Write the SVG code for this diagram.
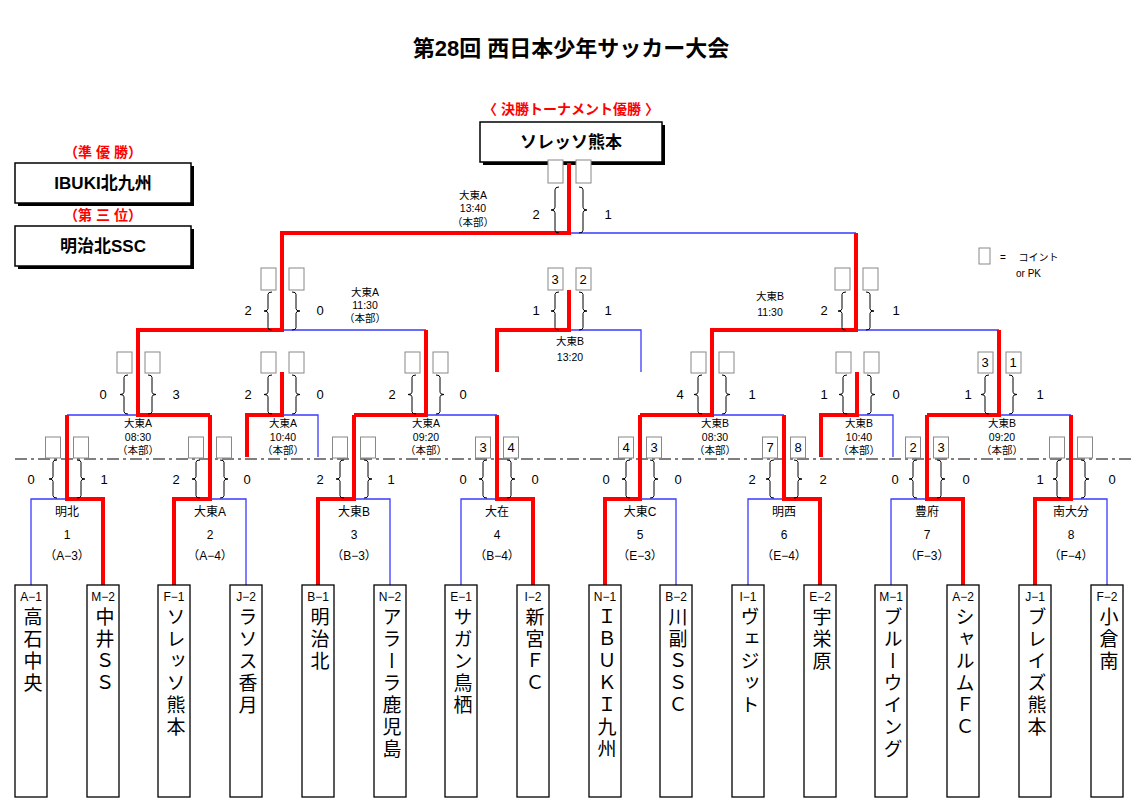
<svg xmlns="http://www.w3.org/2000/svg" width="1143" height="807" viewBox="0 0 1143 807">
<style>
text{font-family:"Liberation Sans","Noto Sans CJK JP",sans-serif;fill:#000}
.r{fill:none;stroke:#ff0000;stroke-width:4;stroke-linejoin:miter}
.b{fill:none;stroke:#3a3aff;stroke-width:1.3}
.sb{fill:#fff;stroke:#888;stroke-width:1}
.br{fill:none;stroke:#000;stroke-width:1}
.sc{font-size:13px;text-anchor:middle}
.bn{font-size:12px;text-anchor:middle}
.ml{font-size:12px;text-anchor:middle}
.sl{font-size:10.5px;text-anchor:middle}
.tb{fill:#fff;stroke:#000;stroke-width:1.3}
.tc{font-size:12px;text-anchor:middle}
.tn{font-size:19px;writing-mode:vertical-rl;letter-spacing:3px}
.red{fill:#ff0000;font-weight:bold;font-size:14px;text-anchor:middle}
.hb{fill:#fff;stroke:#000;stroke-width:1.5}
.ht{font-size:17px;font-weight:bold;text-anchor:middle}
</style>
<defs>
<path id="bl" d="M4 0 Q0 0 0 6 V44 Q0 50 -4 50 Q0 50 0 56 V94 Q0 100 4 100" vector-effect="non-scaling-stroke"/>
<path id="bR" d="M-4 0 Q0 0 0 6 V44 Q0 50 4 50 Q0 50 0 56 V94 Q0 100 -4 100" vector-effect="non-scaling-stroke"/>
</defs>
<rect width="1143" height="807" fill="#fff"/>
<text x="571" y="56" font-size="22" font-weight="bold" text-anchor="middle">第28回 西日本少年サッカー大会</text>
<text x="571" y="114" class="red">〈  決勝トーナメント優勝  〉</text>
<g id="champion"><rect x="483" y="125" width="182" height="40" fill="#000"/><rect x="480" y="122" width="182" height="40" class="hb"/><text x="571" y="148" class="ht">ソレッソ熊本</text></g>
<text x="103" y="157" class="red">（準  優  勝）</text>
<g id="runnerup"><rect x="18" y="166" width="176" height="40" fill="#000"/><rect x="15" y="163" width="176" height="40" class="hb"/><text x="103" y="189" class="ht">IBUKI北九州</text></g>
<text x="103" y="220" class="red">（第  三  位）</text>
<g id="third"><rect x="18" y="229" width="176" height="40" fill="#000"/><rect x="15" y="226" width="176" height="40" class="hb"/><text x="103" y="252" class="ht">明治北SSC</text></g>
<g id="legend"><rect x="979" y="248" width="11" height="16" class="sb"/><text x="1000" y="261" font-size="10">=　 コイント</text><text x="1016" y="277" font-size="10">or  PK</text></g>
<line x1="15" y1="459" x2="1132" y2="459" stroke="#000" stroke-width="1.2" stroke-dasharray="12,4,3,4"/>
<g id="connectors">
<path class="b" d="M31 585 V499 H67 M210 499 H246 V585 M354 499 H390 V585 M461 585 V499 H497 M640 499 H676 V585 M748 585 V499 H784 M891 585 V499 H927 M1071 499 H1107 V585"/>
<path class="b" d="M67 415 H138 M282 415 H318 V457 M426 415 H497 M712 415 H784 M857 415 H893 V457 M999 415 H1071 M282 330 H426 M569 330 H641 V372 M856 330 H999 M569 233 H856"/>
<path class="r" d="M103 585 V499 H67 V415 M174 585 V499 H210 V415 M318 585 V499 H354 V415 M533 585 V499 H497 V415 M605 585 V499 H640 V415 M820 585 V499 H784 V415 M963 585 V499 H927 V415 M1035 585 V499 H1071 V415"/>
<path class="r" d="M210 415 H138 V330 H282 V233 H569 V163 M247 457 V415 H282 V372 M354 415 H426 V330 M640 415 H712 V330 H856 V233 M821 457 V415 H857 V372 M927 415 H999 V330 M497 372 V330 H569 V290"/>
</g>
<g id="scoreboxes">
<!-- R1 -->
<rect class="sb" x="45.5" y="437" width="15" height="21"/><rect class="sb" x="73.5" y="437" width="15" height="21"/>
<rect class="sb" x="188.5" y="437" width="15" height="21"/><rect class="sb" x="216.5" y="437" width="15" height="21"/>
<rect class="sb" x="332.5" y="437" width="15" height="21"/><rect class="sb" x="360.5" y="437" width="15" height="21"/>
<rect class="sb" x="475.5" y="437" width="15" height="21"/><rect class="sb" x="503.5" y="437" width="15" height="21"/>
<rect class="sb" x="618.5" y="437" width="15" height="21"/><rect class="sb" x="646.5" y="437" width="15" height="21"/>
<rect class="sb" x="762.5" y="437" width="15" height="21"/><rect class="sb" x="790.5" y="437" width="15" height="21"/>
<rect class="sb" x="905.5" y="437" width="15" height="21"/><rect class="sb" x="933.5" y="437" width="15" height="21"/>
<rect class="sb" x="1049.5" y="437" width="15" height="21"/><rect class="sb" x="1077.5" y="437" width="15" height="21"/>
<!-- R2 -->
<rect class="sb" x="117" y="352" width="15" height="21"/><rect class="sb" x="145" y="352" width="15" height="21"/>
<rect class="sb" x="261" y="352" width="15" height="21"/><rect class="sb" x="289" y="352" width="15" height="21"/>
<rect class="sb" x="405" y="352" width="15" height="21"/><rect class="sb" x="433" y="352" width="15" height="21"/>
<rect class="sb" x="691" y="352" width="15" height="21"/><rect class="sb" x="719" y="352" width="15" height="21"/>
<rect class="sb" x="836" y="352" width="15" height="21"/><rect class="sb" x="864" y="352" width="15" height="21"/>
<rect class="sb" x="978" y="352" width="15" height="21"/><rect class="sb" x="1006" y="352" width="15" height="21"/>
<!-- R3 -->
<rect class="sb" x="261" y="268" width="15" height="22"/><rect class="sb" x="289" y="268" width="15" height="22"/>
<rect class="sb" x="548" y="268" width="15" height="22"/><rect class="sb" x="576" y="268" width="15" height="22"/>
<rect class="sb" x="835" y="268" width="15" height="22"/><rect class="sb" x="863" y="268" width="15" height="22"/>
<!-- F -->
<rect class="sb" x="548" y="160" width="15" height="23"/><rect class="sb" x="576" y="160" width="15" height="23"/>
<text class="sc" x="483" y="452">3</text><text class="sc" x="511" y="452">4</text>
<text class="sc" x="626" y="452">4</text><text class="sc" x="654" y="452">3</text>
<text class="sc" x="770" y="452">7</text><text class="sc" x="798" y="452">8</text>
<text class="sc" x="913" y="452">2</text><text class="sc" x="941" y="452">3</text>
<text class="sc" x="985" y="367">3</text><text class="sc" x="1013" y="367">1</text>
<text class="sc" x="555" y="284">3</text><text class="sc" x="583" y="284">2</text>
</g>
<g id="braces" class="br">
<use href="#bl" transform="translate(53,460) scale(1,0.38)"/><use href="#bR" transform="translate(81,460) scale(1,0.38)"/>
<use href="#bl" transform="translate(196,460) scale(1,0.38)"/><use href="#bR" transform="translate(224,460) scale(1,0.38)"/>
<use href="#bl" transform="translate(340,460) scale(1,0.38)"/><use href="#bR" transform="translate(368,460) scale(1,0.38)"/>
<use href="#bl" transform="translate(483,460) scale(1,0.38)"/><use href="#bR" transform="translate(511,460) scale(1,0.38)"/>
<use href="#bl" transform="translate(626,460) scale(1,0.38)"/><use href="#bR" transform="translate(654,460) scale(1,0.38)"/>
<use href="#bl" transform="translate(770,460) scale(1,0.38)"/><use href="#bR" transform="translate(798,460) scale(1,0.38)"/>
<use href="#bl" transform="translate(913,460) scale(1,0.38)"/><use href="#bR" transform="translate(941,460) scale(1,0.38)"/>
<use href="#bl" transform="translate(1057,460) scale(1,0.38)"/><use href="#bR" transform="translate(1085,460) scale(1,0.38)"/>
<use href="#bl" transform="translate(124,375) scale(1,0.39)"/><use href="#bR" transform="translate(152,375) scale(1,0.39)"/>
<use href="#bl" transform="translate(268,375) scale(1,0.39)"/><use href="#bR" transform="translate(296,375) scale(1,0.39)"/>
<use href="#bl" transform="translate(412,375) scale(1,0.39)"/><use href="#bR" transform="translate(440,375) scale(1,0.39)"/>
<use href="#bl" transform="translate(698,375) scale(1,0.39)"/><use href="#bR" transform="translate(726,375) scale(1,0.39)"/>
<use href="#bl" transform="translate(843,375) scale(1,0.39)"/><use href="#bR" transform="translate(871,375) scale(1,0.39)"/>
<use href="#bl" transform="translate(985,375) scale(1,0.39)"/><use href="#bR" transform="translate(1013,375) scale(1,0.39)"/>
<use href="#bl" transform="translate(268,292) scale(1,0.38)"/><use href="#bR" transform="translate(296,292) scale(1,0.38)"/>
<use href="#bl" transform="translate(555,292) scale(1,0.38)"/><use href="#bR" transform="translate(583,292) scale(1,0.38)"/>
<use href="#bl" transform="translate(842,292) scale(1,0.38)"/><use href="#bR" transform="translate(870,292) scale(1,0.38)"/>
<use href="#bl" transform="translate(555,187) scale(1,0.46)"/><use href="#bR" transform="translate(583,187) scale(1,0.46)"/>
</g>
<g id="scores">
<text class="sc" x="31" y="484">0</text><text class="sc" x="104" y="484">1</text>
<text class="sc" x="176" y="484">2</text><text class="sc" x="247" y="484">0</text>
<text class="sc" x="320" y="484">2</text><text class="sc" x="391" y="484">1</text>
<text class="sc" x="463" y="484">0</text><text class="sc" x="535" y="484">0</text>
<text class="sc" x="606" y="484">0</text><text class="sc" x="678" y="484">0</text>
<text class="sc" x="752" y="484">2</text><text class="sc" x="823" y="484">2</text>
<text class="sc" x="895" y="484">0</text><text class="sc" x="966" y="484">0</text>
<text class="sc" x="1040" y="484">1</text><text class="sc" x="1112" y="484">0</text>
<text class="sc" x="103" y="399">0</text><text class="sc" x="176" y="399">3</text>
<text class="sc" x="248" y="399">2</text><text class="sc" x="320" y="399">0</text>
<text class="sc" x="392" y="399">2</text><text class="sc" x="463" y="399">0</text>
<text class="sc" x="680" y="399">4</text><text class="sc" x="752" y="399">1</text>
<text class="sc" x="824" y="399">1</text><text class="sc" x="896" y="399">0</text>
<text class="sc" x="968" y="399">1</text><text class="sc" x="1040" y="399">1</text>
<text class="sc" x="248" y="315">2</text><text class="sc" x="320" y="315">0</text>
<text class="sc" x="536" y="315">1</text><text class="sc" x="608" y="315">1</text>
<text class="sc" x="824" y="315">2</text><text class="sc" x="896" y="315">1</text>
<text class="sc" x="536" y="219">2</text><text class="sc" x="608" y="219">1</text>
</g>
<g id="matchlabels">
<g class="ml"><text x="67" y="516">明北</text><text x="67" y="539">1</text><text x="67" y="560">（A−3）</text></g>
<g class="ml"><text x="210" y="516">大東A</text><text x="210" y="539">2</text><text x="210" y="560">（A−4）</text></g>
<g class="ml"><text x="354" y="516">大東B</text><text x="354" y="539">3</text><text x="354" y="560">（B−3）</text></g>
<g class="ml"><text x="497" y="516">大在</text><text x="497" y="539">4</text><text x="497" y="560">（B−4）</text></g>
<g class="ml"><text x="640" y="516">大東C</text><text x="640" y="539">5</text><text x="640" y="560">（E−3）</text></g>
<g class="ml"><text x="784" y="516">明西</text><text x="784" y="539">6</text><text x="784" y="560">（E−4）</text></g>
<g class="ml"><text x="927" y="516">豊府</text><text x="927" y="539">7</text><text x="927" y="560">（F−3）</text></g>
<g class="ml"><text x="1071" y="516">南大分</text><text x="1071" y="539">8</text><text x="1071" y="560">（F−4）</text></g>
<g class="sl"><text x="138" y="427">大東A</text><text x="138" y="441">08:30</text><text x="138" y="454">（本部）</text></g>
<g class="sl"><text x="283" y="427">大東A</text><text x="283" y="441">10:40</text><text x="283" y="454">（本部）</text></g>
<g class="sl"><text x="426" y="427">大東A</text><text x="426" y="441">09:20</text><text x="426" y="454">（本部）</text></g>
<g class="sl"><text x="715" y="427">大東B</text><text x="715" y="441">08:30</text><text x="715" y="454">（本部）</text></g>
<g class="sl"><text x="859" y="427">大東B</text><text x="859" y="441">10:40</text><text x="859" y="454">（本部）</text></g>
<g class="sl"><text x="1002" y="427">大東B</text><text x="1002" y="441">09:20</text><text x="1002" y="454">（本部）</text></g>
<g class="sl"><text x="365" y="296">大東A</text><text x="365" y="309">11:30</text><text x="365" y="322">（本部）</text></g>
<g class="sl"><text x="570" y="345">大東B</text><text x="570" y="361">13:20</text></g>
<g class="sl"><text x="770" y="300">大東B</text><text x="770" y="316">11:30</text></g>
<g class="sl"><text x="473" y="199">大東A</text><text x="473" y="212">13:40</text><text x="473" y="226">（本部）</text></g>
</g>
<g id="t1"><rect class="tb" x="15" y="585" width="32" height="212"/><text class="tc" x="31" y="601">A−1</text><text class="tn" x="31" y="607">高石中央</text></g>
<g id="t2"><rect class="tb" x="87" y="585" width="32" height="212"/><text class="tc" x="103" y="601">M−2</text><text class="tn" x="103" y="607">中井ＳＳ</text></g>
<g id="t3"><rect class="tb" x="158" y="585" width="32" height="212"/><text class="tc" x="174" y="601">F−1</text><text class="tn" x="174" y="607">ソレッソ熊本</text></g>
<g id="t4"><rect class="tb" x="230" y="585" width="32" height="212"/><text class="tc" x="246" y="601">J−2</text><text class="tn" x="246" y="607">ラソス香月</text></g>
<g id="t5"><rect class="tb" x="302" y="585" width="32" height="212"/><text class="tc" x="318" y="601">B−1</text><text class="tn" x="318" y="607">明治北</text></g>
<g id="t6"><rect class="tb" x="374" y="585" width="32" height="212"/><text class="tc" x="390" y="601">N−2</text><text class="tn" x="390" y="607">アラーラ鹿児島</text></g>
<g id="t7"><rect class="tb" x="445" y="585" width="32" height="212"/><text class="tc" x="461" y="601">E−1</text><text class="tn" x="461" y="607">サガン鳥栖</text></g>
<g id="t8"><rect class="tb" x="517" y="585" width="32" height="212"/><text class="tc" x="533" y="601">I−2</text><text class="tn" x="533" y="607">新宮ＦＣ</text></g>
<g id="t9"><rect class="tb" x="589" y="585" width="32" height="212"/><text class="tc" x="605" y="601">N−1</text><text class="tn" x="605" y="607">ＩＢＵＫＩ九州</text></g>
<g id="t10"><rect class="tb" x="660" y="585" width="32" height="212"/><text class="tc" x="676" y="601">B−2</text><text class="tn" x="676" y="607">川副ＳＳＣ</text></g>
<g id="t11"><rect class="tb" x="732" y="585" width="32" height="212"/><text class="tc" x="748" y="601">I−1</text><text class="tn" x="748" y="607">ヴェジット</text></g>
<g id="t12"><rect class="tb" x="804" y="585" width="32" height="212"/><text class="tc" x="820" y="601">E−2</text><text class="tn" x="820" y="607">宇栄原</text></g>
<g id="t13"><rect class="tb" x="875" y="585" width="32" height="212"/><text class="tc" x="891" y="601">M−1</text><text class="tn" x="891" y="607">ブルーウイング</text></g>
<g id="t14"><rect class="tb" x="947" y="585" width="32" height="212"/><text class="tc" x="963" y="601">A−2</text><text class="tn" x="963" y="607">シャルムＦＣ</text></g>
<g id="t15"><rect class="tb" x="1019" y="585" width="32" height="212"/><text class="tc" x="1035" y="601">J−1</text><text class="tn" x="1035" y="607">ブレイズ熊本</text></g>
<g id="t16"><rect class="tb" x="1091" y="585" width="32" height="212"/><text class="tc" x="1107" y="601">F−2</text><text class="tn" x="1107" y="607">小倉南</text></g>
</svg>
